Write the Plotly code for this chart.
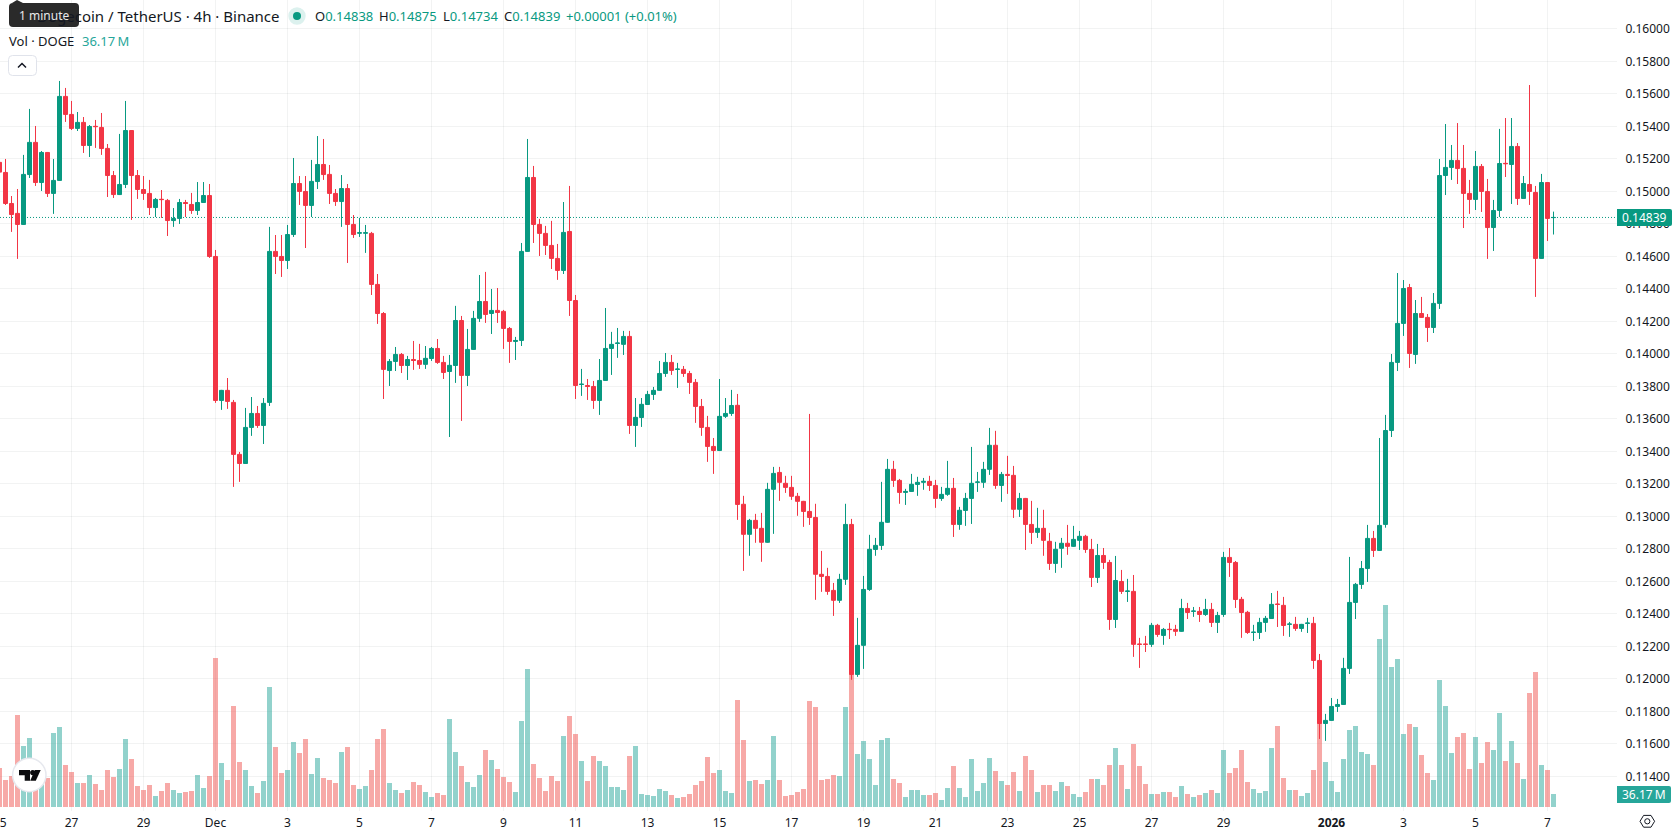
import pandas as pd
import plotly.graph_objects as go

# DOGE/USDT 4h candles, first bar 25 Nov 2025 00:00 UTC
START = "2025-11-25 00:00"

open_prices = [
    0.15178, 0.15116, 0.14925, 0.14864, 0.14796, 0.15103, 0.15301, 0.15054, 0.15239, 0.14987,
    0.15067, 0.15584, 0.15473, 0.15387, 0.15424, 0.15282, 0.15400, 0.15393, 0.15264, 0.15097,
    0.14980, 0.15042, 0.15374, 0.15097, 0.15011, 0.14987, 0.14900, 0.14951, 0.14944, 0.14820,
    0.14833, 0.14931, 0.14919, 0.14882, 0.14931, 0.14974, 0.14599, 0.13713, 0.13775, 0.13701,
    0.13381, 0.13325, 0.13547, 0.13633, 0.13559, 0.13701, 0.14630, 0.14599, 0.14574, 0.14734,
    0.15048, 0.14999, 0.14913, 0.15060, 0.15165, 0.15104, 0.14987, 0.14937, 0.15017, 0.14796,
    0.14742, 0.14742, 0.14741, 0.14427, 0.14248, 0.13897, 0.13953, 0.13996, 0.13928, 0.13965,
    0.13959, 0.13935, 0.13971, 0.14033, 0.13947, 0.13891, 0.13928, 0.14205, 0.13867, 0.14027,
    0.14218, 0.14322, 0.14248, 0.14267, 0.14261, 0.14156, 0.14076, 0.14082, 0.14630, 0.15085,
    0.14796, 0.14741, 0.14667, 0.14587, 0.14513, 0.14753, 0.14328, 0.13811, 0.13805, 0.13799,
    0.13713, 0.13836, 0.14033, 0.14064, 0.14058, 0.14107, 0.13559, 0.13608, 0.13688, 0.13750,
    0.13775, 0.13879, 0.13947, 0.13904, 0.13904, 0.13879, 0.13824, 0.13676, 0.13547, 0.13430,
    0.13405, 0.13615, 0.13633, 0.13683, 0.13074, 0.12889, 0.12975, 0.12926, 0.12840, 0.13166,
    0.13270, 0.13203, 0.13178, 0.13123, 0.13092, 0.13030, 0.12993, 0.12643, 0.12630, 0.12544,
    0.12483, 0.12612, 0.12950, 0.12027, 0.12206, 0.12550, 0.12796, 0.12821, 0.12963, 0.13289,
    0.13221, 0.13147, 0.13153, 0.13196, 0.13209, 0.13215, 0.13190, 0.13110, 0.13135, 0.13172,
    0.12950, 0.13036, 0.13110, 0.13209, 0.13209, 0.13289, 0.13437, 0.13190, 0.13258, 0.13252,
    0.13043, 0.13110, 0.12950, 0.12901, 0.12926, 0.12846, 0.12710, 0.12803, 0.12834, 0.12815,
    0.12852, 0.12877, 0.12796, 0.12624, 0.12759, 0.12716, 0.12365, 0.12599, 0.12538, 0.12538,
    0.12214, 0.12214, 0.12212, 0.12329, 0.12267, 0.12305, 0.12304, 0.12292, 0.12433, 0.12415,
    0.12415, 0.12396, 0.12427, 0.12347, 0.12396, 0.12747, 0.12716, 0.12489, 0.12409, 0.12285,
    0.12285, 0.12347, 0.12371, 0.12460, 0.12452, 0.12335, 0.12335, 0.12310, 0.12341, 0.12341,
    0.12113, 0.11725, 0.11744, 0.11830, 0.11842, 0.12064, 0.12470, 0.12581, 0.12679, 0.12864,
    0.12790, 0.12950, 0.13528, 0.13947, 0.14187, 0.14408, 0.13996, 0.14248, 0.14224, 0.14162,
    0.14310, 0.15097, 0.15147, 0.15190, 0.15141, 0.14987, 0.14950, 0.15153, 0.14999, 0.14777,
    0.14882, 0.15172, 0.15165, 0.15276, 0.14956, 0.15042, 0.14993, 0.14587, 0.15054, 0.14838,
]
high_prices = [
    0.15209, 0.15199, 0.14971, 0.15014, 0.15224, 0.15507, 0.15402, 0.15248, 0.15242, 0.15199,
    0.15679, 0.15636, 0.15556, 0.15488, 0.15457, 0.15408, 0.15439, 0.15482, 0.15291, 0.15125,
    0.15353, 0.15556, 0.15377, 0.15131, 0.15094, 0.15070, 0.14959, 0.15008, 0.14953, 0.14897,
    0.14953, 0.14947, 0.14990, 0.15057, 0.15057, 0.15045, 0.14639, 0.13778, 0.13851, 0.13716,
    0.13396, 0.13667, 0.13734, 0.13679, 0.13728, 0.14781, 0.14731, 0.14731, 0.14793, 0.15205,
    0.15094, 0.15094, 0.15193, 0.15340, 0.15322, 0.15162, 0.15014, 0.15100, 0.15045, 0.14854,
    0.14836, 0.14793, 0.14750, 0.14491, 0.14257, 0.13968, 0.14042, 0.14005, 0.13987, 0.14079,
    0.14061, 0.14048, 0.14042, 0.14091, 0.13987, 0.13993, 0.14295, 0.14233, 0.14153, 0.14264,
    0.14485, 0.14504, 0.14399, 0.14405, 0.14270, 0.14165, 0.14104, 0.14682, 0.15322, 0.15156,
    0.14830, 0.14787, 0.14818, 0.14676, 0.14934, 0.15033, 0.14362, 0.13907, 0.13845, 0.13833,
    0.13968, 0.14282, 0.14135, 0.14159, 0.14141, 0.14141, 0.13728, 0.13728, 0.13772, 0.13796,
    0.13956, 0.14005, 0.13993, 0.13944, 0.13925, 0.13895, 0.13845, 0.13722, 0.13618, 0.13482,
    0.13845, 0.13728, 0.13778, 0.13753, 0.13126, 0.12984, 0.13015, 0.13021, 0.13206, 0.13304,
    0.13304, 0.13249, 0.13249, 0.13144, 0.13095, 0.13630, 0.13077, 0.12787, 0.12683, 0.12590,
    0.12646, 0.13077, 0.12984, 0.12375, 0.12633, 0.12886, 0.12867, 0.13212, 0.13353, 0.13341,
    0.13230, 0.13169, 0.13261, 0.13243, 0.13236, 0.13249, 0.13224, 0.13181, 0.13341, 0.13236,
    0.13058, 0.13144, 0.13427, 0.13273, 0.13335, 0.13544, 0.13526, 0.13273, 0.13372, 0.13310,
    0.13144, 0.13113, 0.13095, 0.13052, 0.13040, 0.12898, 0.12843, 0.12867, 0.12947, 0.12941,
    0.12910, 0.12886, 0.12861, 0.12830, 0.12805, 0.12732, 0.12756, 0.12670, 0.12615, 0.12639,
    0.12252, 0.12264, 0.12344, 0.12338, 0.12313, 0.12344, 0.12332, 0.12492, 0.12467, 0.12442,
    0.12442, 0.12492, 0.12467, 0.12412, 0.12781, 0.12805, 0.12725, 0.12504, 0.12418, 0.12332,
    0.12375, 0.12387, 0.12528, 0.12541, 0.12504, 0.12350, 0.12381, 0.12338, 0.12375, 0.12381,
    0.12153, 0.11784, 0.11882, 0.11876, 0.12129, 0.12750, 0.12590, 0.12725, 0.12947, 0.12910,
    0.13482, 0.13624, 0.13999, 0.14497, 0.14454, 0.14430, 0.14331, 0.14350, 0.14245, 0.14374,
    0.15199, 0.15414, 0.15285, 0.15420, 0.15285, 0.15070, 0.15248, 0.15168, 0.15076, 0.14947,
    0.15384, 0.15451, 0.15451, 0.15297, 0.15094, 0.15654, 0.15033, 0.15107, 0.15057, 0.14875,
]
low_prices = [
    0.15100, 0.14916, 0.14750, 0.14584, 0.14793, 0.15082, 0.15033, 0.15002, 0.14965, 0.14861,
    0.15064, 0.15427, 0.15377, 0.15371, 0.15236, 0.15211, 0.15267, 0.15224, 0.14965, 0.14959,
    0.14977, 0.15020, 0.14824, 0.14953, 0.14947, 0.14854, 0.14842, 0.14836, 0.14725, 0.14781,
    0.14799, 0.14842, 0.14861, 0.14854, 0.14928, 0.14590, 0.13698, 0.13655, 0.13661, 0.13181,
    0.13212, 0.13322, 0.13495, 0.13544, 0.13445, 0.13679, 0.14491, 0.14473, 0.14522, 0.14719,
    0.14916, 0.14651, 0.14842, 0.15014, 0.15070, 0.14922, 0.14910, 0.14781, 0.14559, 0.14713,
    0.14719, 0.14621, 0.14362, 0.14184, 0.13722, 0.13802, 0.13894, 0.13882, 0.13839, 0.13901,
    0.13907, 0.13907, 0.13956, 0.13938, 0.13845, 0.13488, 0.13821, 0.13587, 0.13802, 0.14024,
    0.14196, 0.14190, 0.14122, 0.14190, 0.14030, 0.13944, 0.13962, 0.14048, 0.14627, 0.14682,
    0.14602, 0.14608, 0.14522, 0.14455, 0.14491, 0.14233, 0.13722, 0.13741, 0.13716, 0.13661,
    0.13624, 0.13833, 0.13870, 0.13975, 0.13993, 0.13507, 0.13427, 0.13550, 0.13685, 0.13716,
    0.13772, 0.13858, 0.13870, 0.13790, 0.13858, 0.13753, 0.13575, 0.13495, 0.13335, 0.13261,
    0.13402, 0.13605, 0.13618, 0.12978, 0.12664, 0.12757, 0.12837, 0.12720, 0.12837, 0.12892,
    0.13095, 0.13144, 0.13101, 0.13003, 0.12935, 0.12947, 0.12486, 0.12535, 0.12517, 0.12387,
    0.12467, 0.12578, 0.11994, 0.12012, 0.12061, 0.12541, 0.12757, 0.12793, 0.12960, 0.13181,
    0.13077, 0.13070, 0.13150, 0.13126, 0.13163, 0.13156, 0.13052, 0.13095, 0.13126, 0.12873,
    0.12917, 0.12941, 0.12953, 0.13150, 0.13175, 0.13255, 0.13169, 0.13089, 0.13138, 0.12990,
    0.12996, 0.12793, 0.12830, 0.12867, 0.12757, 0.12670, 0.12652, 0.12683, 0.12763, 0.12812,
    0.12793, 0.12775, 0.12565, 0.12590, 0.12676, 0.12301, 0.12313, 0.12522, 0.12473, 0.12135,
    0.12067, 0.12165, 0.12196, 0.12258, 0.12209, 0.12245, 0.12264, 0.12289, 0.12368, 0.12381,
    0.12350, 0.12387, 0.12319, 0.12282, 0.12381, 0.12627, 0.12436, 0.12252, 0.12276, 0.12233,
    0.12245, 0.12289, 0.12368, 0.12319, 0.12264, 0.12258, 0.12295, 0.12289, 0.12282, 0.12061,
    0.11630, 0.11618, 0.11741, 0.11796, 0.11839, 0.12030, 0.12368, 0.12553, 0.12596, 0.12750,
    0.12787, 0.12930, 0.13488, 0.13894, 0.14110, 0.13913, 0.13938, 0.14221, 0.14073, 0.14128,
    0.14276, 0.14977, 0.15070, 0.15045, 0.14774, 0.14861, 0.14885, 0.14873, 0.14584, 0.14633,
    0.14842, 0.15088, 0.14922, 0.14916, 0.14953, 0.14916, 0.14350, 0.14584, 0.14694, 0.14734,
]
close_prices = [
    0.15118, 0.14925, 0.14857, 0.14796, 0.15104, 0.15301, 0.15054, 0.15239, 0.14987, 0.15067,
    0.15584, 0.15473, 0.15387, 0.15424, 0.15282, 0.15399, 0.15398, 0.15263, 0.15097, 0.14980,
    0.15042, 0.15374, 0.15097, 0.15011, 0.14987, 0.14900, 0.14950, 0.14949, 0.14820, 0.14833,
    0.14931, 0.14925, 0.14882, 0.14931, 0.14974, 0.14599, 0.13713, 0.13775, 0.13707, 0.13381,
    0.13325, 0.13547, 0.13633, 0.13559, 0.13695, 0.14630, 0.14599, 0.14574, 0.14734, 0.15048,
    0.14999, 0.14913, 0.15061, 0.15165, 0.15103, 0.14987, 0.14937, 0.15017, 0.14796, 0.14734,
    0.14745, 0.14745, 0.14427, 0.14248, 0.13904, 0.13953, 0.13996, 0.13928, 0.13965, 0.13959,
    0.13935, 0.13972, 0.14033, 0.13947, 0.13885, 0.13929, 0.14205, 0.13867, 0.14027, 0.14218,
    0.14322, 0.14242, 0.14267, 0.14254, 0.14156, 0.14076, 0.14082, 0.14630, 0.15085, 0.14796,
    0.14741, 0.14667, 0.14587, 0.14513, 0.14747, 0.14328, 0.13805, 0.13813, 0.13799, 0.13713,
    0.13836, 0.14033, 0.14058, 0.14066, 0.14107, 0.13559, 0.13609, 0.13689, 0.13750, 0.13775,
    0.13879, 0.13947, 0.13898, 0.13906, 0.13879, 0.13824, 0.13676, 0.13547, 0.13430, 0.13405,
    0.13615, 0.13633, 0.13682, 0.13073, 0.12889, 0.12975, 0.12926, 0.12840, 0.13166, 0.13264,
    0.13209, 0.13178, 0.13123, 0.13092, 0.13030, 0.12993, 0.12643, 0.12630, 0.12538, 0.12483,
    0.12612, 0.12950, 0.12027, 0.12206, 0.12550, 0.12797, 0.12821, 0.12963, 0.13289, 0.13221,
    0.13147, 0.13153, 0.13197, 0.13209, 0.13215, 0.13190, 0.13110, 0.13135, 0.13172, 0.12950,
    0.13037, 0.13110, 0.13203, 0.13211, 0.13289, 0.13437, 0.13190, 0.13258, 0.13252, 0.13043,
    0.13110, 0.12950, 0.12901, 0.12926, 0.12852, 0.12710, 0.12797, 0.12834, 0.12815, 0.12858,
    0.12877, 0.12796, 0.12624, 0.12759, 0.12716, 0.12365, 0.12605, 0.12538, 0.12540, 0.12212,
    0.12212, 0.12212, 0.12329, 0.12273, 0.12304, 0.12303, 0.12292, 0.12433, 0.12408, 0.12417,
    0.12396, 0.12427, 0.12347, 0.12390, 0.12747, 0.12716, 0.12488, 0.12408, 0.12285, 0.12287,
    0.12347, 0.12372, 0.12458, 0.12458, 0.12328, 0.12337, 0.12310, 0.12335, 0.12343, 0.12113,
    0.11725, 0.11744, 0.11830, 0.11842, 0.12064, 0.12470, 0.12581, 0.12679, 0.12864, 0.12790,
    0.12944, 0.13528, 0.13947, 0.14187, 0.14402, 0.14002, 0.14248, 0.14224, 0.14162, 0.14310,
    0.15097, 0.15147, 0.15190, 0.15140, 0.14987, 0.14950, 0.15153, 0.14999, 0.14777, 0.14882,
    0.15171, 0.15170, 0.15276, 0.14956, 0.15048, 0.14999, 0.14587, 0.15054, 0.14833, 0.14839,
]
# traded volume, millions of DOGE
volumes_m = [
    107.6, 74.2, 85.3, 255.0, 168.8, 191.0, 92.7, 78.8, 79.8, 205.0,
    221.6, 115.9, 96.4, 65.8, 65.8, 88.1, 63.1, 46.4, 102.0, 82.5,
    104.8, 188.3, 132.6, 57.5, 46.4, 60.3, 29.7, 43.6, 65.8, 46.4,
    38.0, 40.8, 43.6, 88.1, 51.9, 85.3, 413.6, 121.5, 74.2, 280.1,
    124.3, 102.0, 57.5, 38.0, 71.4, 332.9, 166.0, 93.7, 102.0, 179.9,
    149.3, 188.3, 90.9, 135.4, 79.8, 74.2, 65.8, 152.1, 166.0, 60.3,
    49.2, 57.5, 102.0, 188.3, 216.1, 65.8, 46.4, 38.0, 46.4, 68.6,
    60.3, 40.8, 26.9, 38.0, 32.5, 243.9, 152.1, 113.1, 68.6, 54.7,
    88.1, 157.7, 129.8, 104.8, 82.5, 68.6, 40.8, 238.3, 383.0, 118.7,
    79.8, 43.6, 85.3, 71.4, 196.6, 252.3, 202.2, 127.1, 71.4, 141.0,
    127.1, 113.1, 54.7, 54.7, 46.4, 141.0, 168.8, 35.2, 32.5, 29.7,
    49.2, 43.6, 32.5, 24.1, 26.9, 35.2, 60.3, 71.4, 138.2, 93.7,
    102.0, 43.6, 38.0, 296.8, 185.5, 71.4, 74.2, 63.1, 74.2, 196.6,
    74.2, 29.7, 32.5, 40.8, 49.2, 294.0, 277.3, 74.2, 77.0, 88.1,
    85.3, 277.3, 408.1, 146.5, 182.7, 132.6, 60.3, 185.5, 191.0, 77.0,
    65.8, 26.9, 46.4, 46.4, 32.5, 32.5, 38.0, 18.5, 51.9, 113.1,
    51.9, 26.9, 132.6, 43.6, 65.8, 135.4, 99.2, 71.4, 60.3, 96.4,
    43.6, 141.0, 102.0, 40.8, 60.3, 60.3, 43.6, 68.6, 57.5, 35.2,
    26.9, 40.8, 77.0, 77.0, 60.3, 115.9, 163.2, 115.9, 49.2, 174.4,
    113.1, 63.1, 35.2, 35.2, 40.8, 40.8, 26.9, 57.5, 35.2, 26.9,
    32.5, 38.0, 46.4, 38.0, 157.7, 93.7, 107.6, 157.7, 68.6, 49.2,
    39.0, 44.5, 164.2, 225.4, 80.7, 47.3, 47.3, 30.6, 39.0, 102.9,
    242.1, 125.2, 72.3, 41.7, 133.5, 214.2, 225.4, 153.0, 147.5, 116.9,
    467.4, 562.0, 389.5, 411.8, 203.1, 230.9, 222.6, 144.7, 94.6, 75.1,
    353.3, 281.0, 150.2, 194.8, 205.9, 105.7, 194.8, 122.4, 180.8, 158.6,
    261.5, 128.0, 183.6, 122.4, 77.9, 317.2, 375.6, 116.9, 102.9, 36.17,
]
price_ticks = [0.114 + 0.002 * n for n in range(24)]
date_ticks = ["2025-11-27", "2025-11-29", "2025-12-01", "2025-12-03", "2025-12-05", "2025-12-07",
              "2025-12-09", "2025-12-11", "2025-12-13", "2025-12-15", "2025-12-17", "2025-12-19",
              "2025-12-21", "2025-12-23", "2025-12-25", "2025-12-27", "2025-12-29", "2026-01-01",
              "2026-01-03", "2026-01-05", "2026-01-07"]
date_labels = ["27", "29", "Dec", "3", "5", "7", "9", "11", "13", "15", "17", "19",
               "21", "23", "25", "27", "29", "<b>2026</b>", "3", "5", "7"]

FONT = "Noto Sans"
INK = "#131722"
UP = "#089981"
DOWN = "#F23645"
VOL_UP = "rgba(38,166,154,0.5)"
VOL_DOWN = "rgba(239,83,80,0.5)"
GRID = "rgba(42,46,57,0.06)"
PLOT_W, PLOT_H = 1617, 811
VOL_TEXT = "36.17\u202fM"

times = pd.date_range(START, periods=len(close_prices), freq="4h")
bar_ms = 4 * 3600 * 1000 * 5 / 6


def fx(px):
    return px / PLOT_W


def fy(py):
    return 1 - py / PLOT_H


def poly(points):
    return "M " + " L ".join(f"{fx(x)},{fy(y)}" for x, y in points) + " Z"


def round_rect(x0, y0, x1, y1, r_left, r_right):
    return (
        f"M {fx(x0 + r_left)},{fy(y0)} L {fx(x1 - r_right)},{fy(y0)} "
        f"Q {fx(x1)},{fy(y0)} {fx(x1)},{fy(y0 + r_right)} L {fx(x1)},{fy(y1 - r_right)} "
        f"Q {fx(x1)},{fy(y1)} {fx(x1 - r_right)},{fy(y1)} L {fx(x0 + r_left)},{fy(y1)} "
        f"Q {fx(x0)},{fy(y1)} {fx(x0)},{fy(y1 - r_left)} L {fx(x0)},{fy(y0 + r_left)} "
        f"Q {fx(x0)},{fy(y0)} {fx(x0 + r_left)},{fy(y0)} Z"
    )


def path_shape(path, fill="rgba(0,0,0,0)", line=None, width=1):
    return dict(type="path", xref="paper", yref="paper", path=path, fillcolor=fill,
                line=dict(color=line or "rgba(0,0,0,0)", width=width if line else 0), layer="above")


def disc(cx, cy, r, fill, line=None, width=1):
    return dict(type="circle", xref="paper", yref="paper", x0=fx(cx - r), x1=fx(cx + r),
                y0=fy(cy + r), y1=fy(cy - r), fillcolor=fill,
                line=dict(color=line or "rgba(0,0,0,0)", width=width if line else 0), layer="above")


def label(text, x, y, size=13, color=INK, anchor="left"):
    return dict(text=text, xref="paper", yref="paper", x=fx(x), y=fy(y), xanchor=anchor,
                yanchor="middle", showarrow=False, font=dict(family=FONT, size=size, color=color),
                borderpad=0, borderwidth=0)


def pair(letter, value):
    return f'<span style="color:{INK}">{letter}</span><span style="color:{UP}">{value}</span>'


vol_colors = [VOL_UP if c >= o else VOL_DOWN for o, c in zip(open_prices, close_prices)]

fig = go.Figure()
fig.add_trace(go.Bar(x=times, y=volumes_m, width=bar_ms, marker=dict(color=vol_colors, line=dict(width=0)),
                     yaxis="y", xaxis="x", hoverinfo="skip"))
fig.add_trace(go.Candlestick(
    x=times, open=open_prices, high=high_prices, low=low_prices, close=close_prices,
    yaxis="y2", xaxis="x",
    increasing=dict(line=dict(color=UP, width=1), fillcolor=UP),
    decreasing=dict(line=dict(color=DOWN, width=1), fillcolor=DOWN),
))

last_close = close_prices[-1]

shapes = [
    # last-price line
    dict(type="line", xref="paper", yref="y2", x0=0, x1=1, y0=last_close, y1=last_close,
         line=dict(color=UP, width=1, dash="1px,2px"), layer="below"),
    # price and volume tags on the scale
    path_shape(round_rect(1617, 209, 1672, 226, 0, 2), fill=UP),
    path_shape(round_rect(1617, 786, 1671, 803, 0, 2), fill="#26A69A"),
    # symbol status dot
    disc(297, 16, 8.7, "#DCF1EE"),
    disc(297, 16, 4, UP),
    # tooltip
    path_shape(round_rect(9, 3, 79, 27, 4, 4), fill="#2A2A2A"),
    path_shape(poly([(12, 3), (17, 0), (23, 3)]), fill="#2A2A2A"),
    # collapse button
    path_shape(round_rect(8.5, 55.5, 36.5, 75.5, 4, 4), fill="#FFFFFF", line="#E0E3EB"),
    dict(type="path", xref="paper", yref="paper", layer="above", line=dict(color=INK, width=1.5),
         path=f"M {fx(18)},{fy(67.5)} L {fx(22)},{fy(63.5)} L {fx(26)},{fy(67.5)}"),
    # branding badge
    disc(29.3, 775, 16.7, "#FFFFFF", line="#E6E8EE", width=1.5),
    path_shape(poly([(19, 770), (30, 770), (30, 780.7), (24.7, 780.7), (24.7, 775.3), (19, 775.3)]), fill="#0B0B0E"),
    disc(32.7, 772.6, 2.6, "#0B0B0E"),
    path_shape(poly([(34.8, 770), (40.7, 770), (35.8, 780.7), (30.2, 780.7)]), fill="#0B0B0E"),
    # chart settings icon
    path_shape(poly([(1640, 821.3), (1643.6, 815.4), (1651, 815.4), (1654.6, 821.3), (1651, 827.2), (1643.6, 827.2)]),
               line=INK, width=1),
    disc(1647.3, 821.3, 2.6, "rgba(0,0,0,0)", line=INK, width=1),
]

annotations = [
    label("Dogecoin / TetherUS · 4h · Binance", 279.5, 16, size=15, anchor="right"),
    label(pair("O", "0.14838"), 314.7, 16),
    label(pair("H", "0.14875"), 379, 16),
    label(pair("L", "0.14734"), 443, 16),
    label(pair("C", "0.14839"), 503.7, 16),
    label("+0.00001 (+0.01%)", 565.7, 16, color=UP),
    label("Vol · DOGE", 9, 40.5),
    label(VOL_TEXT, 81.5, 40.5, color="#26A69A"),
    label("1 minute", 43.5, 15.5, size=12, color="#E8E8E8", anchor="center"),
    label("0.14839", 1644.5, 217.5, size=12, color="#FFFFFF", anchor="center"),
    label(VOL_TEXT, 1644, 794.5, size=12, color="#FFFFFF", anchor="center"),
    label("25", -0.5, 822.5, size=12, anchor="center"),
]

fig.update_layout(
    width=1678, height=835, autosize=False,
    margin=dict(l=0, r=1678 - PLOT_W, t=0, b=835 - PLOT_H, pad=0),
    paper_bgcolor="#FFFFFF", plot_bgcolor="#FFFFFF",
    showlegend=False, boxgap=1 / 3, boxgroupgap=0, bargap=0,
    font=dict(family=FONT, size=12, color=INK),
    shapes=shapes, annotations=annotations,
    xaxis=dict(
        type="date", rangeslider=dict(visible=False),
        # 6 px per 4h bar, so each bar centre lands on a pixel centre
        range=[times[0] + pd.Timedelta(minutes=20), times[0] + pd.Timedelta(hours=1078, minutes=20)],
        tickmode="array", tickvals=date_ticks, ticktext=date_labels,
        showgrid=True, gridcolor=GRID, gridwidth=1, zeroline=False, showline=False,
        ticks="outside", ticklen=1, tickcolor="rgba(0,0,0,0)", tickangle=0,
        tickfont=dict(family=FONT, size=12, color=INK),
    ),
    yaxis=dict(range=[-11.1, 2245.1], visible=False, showgrid=False, zeroline=False, fixedrange=True),
    yaxis2=dict(
        overlaying="y", side="right", anchor="x",
        range=[0.111865, 0.161772], tickmode="array", tickvals=price_ticks, tickformat=".5f",
        showgrid=True, gridcolor=GRID, gridwidth=1, zeroline=False, showline=False,
        ticks="outside", ticklen=5, tickcolor="rgba(0,0,0,0)",
        tickfont=dict(family=FONT, size=12, color=INK),
    ),
)

fig.write_html("out.html")
